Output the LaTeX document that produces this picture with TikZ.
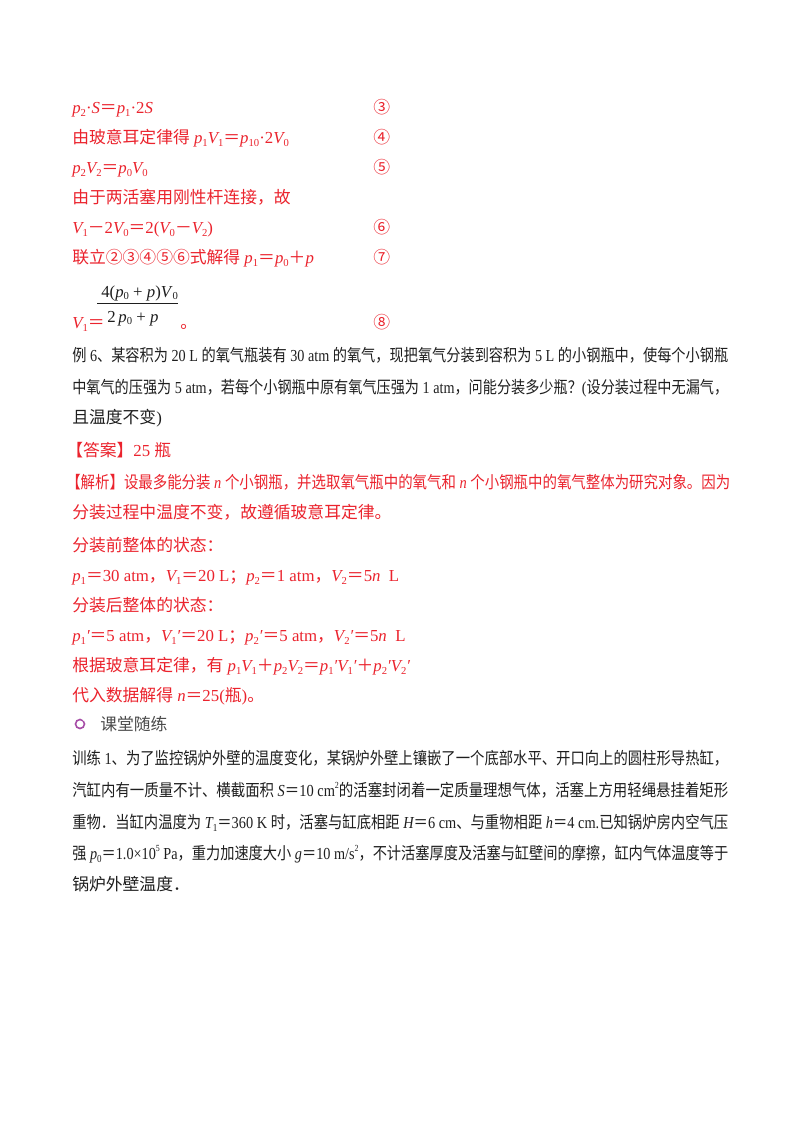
\documentclass[tikz,border=0pt]{standalone}
\usepackage{fontspec}
\usepackage{graphicx}
\setmainfont{Noto Sans CJK SC}
\newfontfamily\lat{Liberation Serif}
\definecolor{ansred}{RGB}{235,35,45}
\definecolor{txt}{RGB}{30,30,30}
\newcommand\mi[1]{{\lat\itshape #1}}
\newcommand\mr[1]{{\lat #1}}
\newcommand\Sb[1]{\raisebox{-0.35ex}{\fontsize{8pt}{8pt}\selectfont\lat #1}}
\newcommand\Sp[1]{\raisebox{0.8ex}{\fontsize{7pt}{7pt}\selectfont\lat #1}}
\newcommand\fitw[2]{\resizebox{#1}{\height}{#2}}
\begin{document}
\begin{tikzpicture}[x=0.75pt,y=-0.75pt,
  ln/.style={anchor=base west,inner sep=0pt,font=\fontsize{12.6pt}{14pt}\selectfont},
  rl/.style={ln,text=ansred},
  bl/.style={ln,text=txt}]
\useasboundingbox (0,0) rectangle (800,1132);
\fill[white] (0,0) rectangle (800,1132);
\node[rl] (a1) at (72,113) {\mi{p}\Sb{2}\mr{·}\mi{S}＝\mi{p}\Sb{1}\mr{·2}\mi{S}};
\node[rl] (n3) at (373,113) {③};
\node[rl] (a2) at (72,143) {由玻意耳定律得\mi{ p}\Sb{1}\mi{V}\Sb{1}＝\mi{p}\Sb{10}\mr{·2}\mi{V}\Sb{0}};
\node[rl] (n4) at (373,143) {④};
\node[rl] (a3) at (72,173) {\mi{p}\Sb{2}\mi{V}\Sb{2}＝\mi{p}\Sb{0}\mi{V}\Sb{0}};
\node[rl] (n5) at (373,173) {⑤};
\node[rl] (a4) at (72,203) {由于两活塞用刚性杆连接，故};
\node[rl] (a5) at (72,233) {\mi{V}\Sb{1}－\mr{2}\mi{V}\Sb{0}＝\mr{2(}\mi{V}\Sb{0}－\mi{V}\Sb{2}\mr{)}};
\node[rl] (n6) at (373,233) {⑥};
\node[rl] (a6) at (72,263) {联立②③④⑤⑥式解得\mi{ p}\Sb{1}＝\mi{p}\Sb{0}＋\mi{p}};
\node[rl] (n7) at (373,263) {⑦};
\node[bl,font=\lat\fontsize{12.6pt}{14pt}\selectfont] (fn) at (101,297) {4(\textit{p}\Sb{0} + \textit{p})\textit{V}\Sb{0}};
\draw[txt,line width=0.6pt] (97,303) -- (178,303);
\node[bl,font=\lat\fontsize{12.6pt}{14pt}\selectfont] (fd) at (107,322) {2\,\textit{p}\Sb{0} + \textit{p}};
\node[rl] (a7) at (72,328) {\mi{V}\Sb{1}＝};
\node[rl] (a8) at (180,328) {。};
\node[rl] (n8) at (373,328) {⑧};
\node[bl] (e1) at (72,361) {\fitw{492pt}{例\mr{ 6}、某容积为\mr{ 20 L }的氧气瓶装有\mr{ 30 atm }的氧气，现把氧气分装到容积为\mr{ 5 L }的小钢瓶中，使每个小钢瓶}};
\node[bl] (e2) at (72,393) {\fitw{492pt}{中氧气的压强为\mr{ 5 atm}，若每个小钢瓶中原有氧气压强为\mr{ 1 atm}，问能分装多少瓶？\mr{(}设分装过程中无漏气，}};
\node[bl] (e3) at (72,423) {且温度不变\mr{)}};
\node[rl] (b1) at (66,456) {【答案】\mr{25 }瓶};
\node[rl] (b2) at (66,488) {\fitw{498pt}{【解析】设最多能分装\mi{ n }个小钢瓶，并选取氧气瓶中的氧气和\mi{ n }个小钢瓶中的氧气整体为研究对象。因为}};
\node[rl] (b3) at (72,518) {分装过程中温度不变，故遵循玻意耳定律。};
\node[rl] (b4) at (72,551) {分装前整体的状态：};
\node[rl] (b5) at (72,581) {\mi{p}\Sb{1}＝\mr{30 atm}，\mi{V}\Sb{1}＝\mr{20 L}；\mi{p}\Sb{2}＝\mr{1 atm}，\mi{V}\Sb{2}＝\mr{5}\mi{n}\mr{\ \ L}};
\node[rl] (b6) at (72,611) {分装后整体的状态：};
\node[rl] (b7) at (72,641) {\mi{p}\Sb{1}\mi{′}＝\mr{5 atm}，\mi{V}\Sb{1}\mi{′}＝\mr{20 L}；\mi{p}\Sb{2}\mi{′}＝\mr{5 atm}，\mi{V}\Sb{2}\mi{′}＝\mr{5}\mi{n}\mr{\ \ L}};
\node[rl] (b8) at (72,671) {根据玻意耳定律，有\mi{ p}\Sb{1}\mi{V}\Sb{1}＋\mi{p}\Sb{2}\mi{V}\Sb{2}＝\mi{p}\Sb{1}\mi{′V}\Sb{1}\mi{′}＋\mi{p}\Sb{2}\mi{′V}\Sb{2}\mi{′}};
\node[rl] (b9) at (72,701) {代入数据解得\mi{ n}＝\mr{25(}瓶\mr{)}。};
\draw[violet!70,line width=1.2pt] (80,724) circle (4.5);
\draw[white,line width=1.6pt] (83,720) -- (86,718);
\node[bl,text=txt!80] (c0) at (100,730) {课堂随练};
\node[bl] (t1) at (72,764) {\fitw{492pt}{训练\mr{ 1}、为了监控锅炉外壁的温度变化，某锅炉外壁上镶嵌了一个底部水平、开口向上的圆柱形导热缸，}};
\node[bl] (t2) at (72,796) {\fitw{492pt}{汽缸内有一质量不计、横截面积\mi{ S}＝\mr{10 cm}\Sp{2}的活塞封闭着一定质量理想气体，活塞上方用轻绳悬挂着矩形}};
\node[bl] (t3) at (72,828) {\fitw{492pt}{重物．当缸内温度为\mi{ T}\Sb{1}＝\mr{360 K }时，活塞与缸底相距\mi{ H}＝\mr{6 cm}、与重物相距\mi{ h}＝\mr{4 cm.}已知锅炉房内空气压}};
\node[bl] (t4) at (72,859) {\fitw{492pt}{强\mi{ p}\Sb{0}＝\mr{1.0×10}\Sp{5}\mr{ Pa}，重力加速度大小\mi{ g}＝\mr{10 m/s}\Sp{2}，不计活塞厚度及活塞与缸壁间的摩擦，缸内气体温度等于}};
\node[bl] (t5) at (72,890) {锅炉外壁温度．};
\end{tikzpicture}
\end{document}
